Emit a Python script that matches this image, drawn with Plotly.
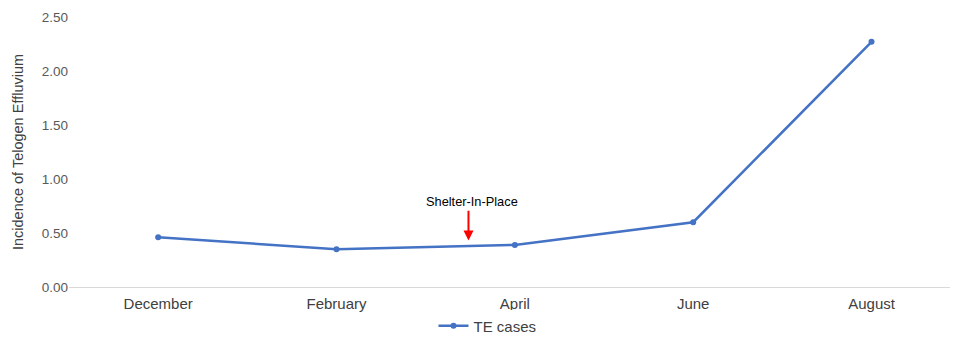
import plotly.graph_objects as go

months = ["December", "February", "April", "June", "August"]
te_cases = [0.46, 0.35, 0.39, 0.60, 2.27]
y_ticks = [0.0, 0.5, 1.0, 1.5, 2.0, 2.5]
y_tick_labels = ["0.00", "0.50", "1.00", "1.50", "2.00", "2.50"]

fig = go.Figure()
fig.add_trace(go.Scatter(
    x=list(range(len(months))), y=te_cases, mode="lines+markers", name="TE cases",
    line=dict(color="#4472C4", width=2.5), marker=dict(size=6, color="#4472C4"),
))

fig.add_annotation(
    x=1.74, y=0.43, ax=1.74, ay=0.72, xref="x", yref="y", axref="x", ayref="y",
    showarrow=True, arrowhead=2, arrowsize=1, arrowwidth=2, arrowcolor="#FF0000", text="",
)
fig.add_annotation(
    x=1.76, y=0.795, xref="x", yref="y", text="Shelter-In-Place", showarrow=False,
    font=dict(family="Liberation Sans, Arial", size=12.8, color="#000000"),
)

fig.update_layout(
    width=953, height=339, margin=dict(l=69, r=3, t=17, b=52),
    paper_bgcolor="white", plot_bgcolor="white",
    font=dict(family="Liberation Sans, Arial", size=13, color="#595959"),
    showlegend=True,
    legend=dict(orientation="h", x=0.475, xanchor="center", yref="container",
                y=1 - 326 / 339, yanchor="middle",
                font=dict(size=15, color="#404040")),
    xaxis=dict(tickmode="array", tickvals=list(range(len(months))), ticktext=months,
               range=[-0.5, 4.44], showgrid=False, zeroline=False, showline=False,
               automargin=False,
               ticks="", ticklabelstandoff=6, tickfont=dict(size=15, color="#404040")),
    yaxis=dict(tickmode="array", tickvals=y_ticks, ticktext=y_tick_labels,
               range=[0, 2.5], showgrid=False, zeroline=True, zerolinecolor="#D9D9D9",
               zerolinewidth=1, showline=False, ticks="", automargin=False,
               title=dict(text="Incidence of Telogen Effluvium", font=dict(size=14.5, color="#404040"), standoff=14),
               tickfont=dict(size=13.5, color="#595959")),
)

fig.write_html("out.html")
